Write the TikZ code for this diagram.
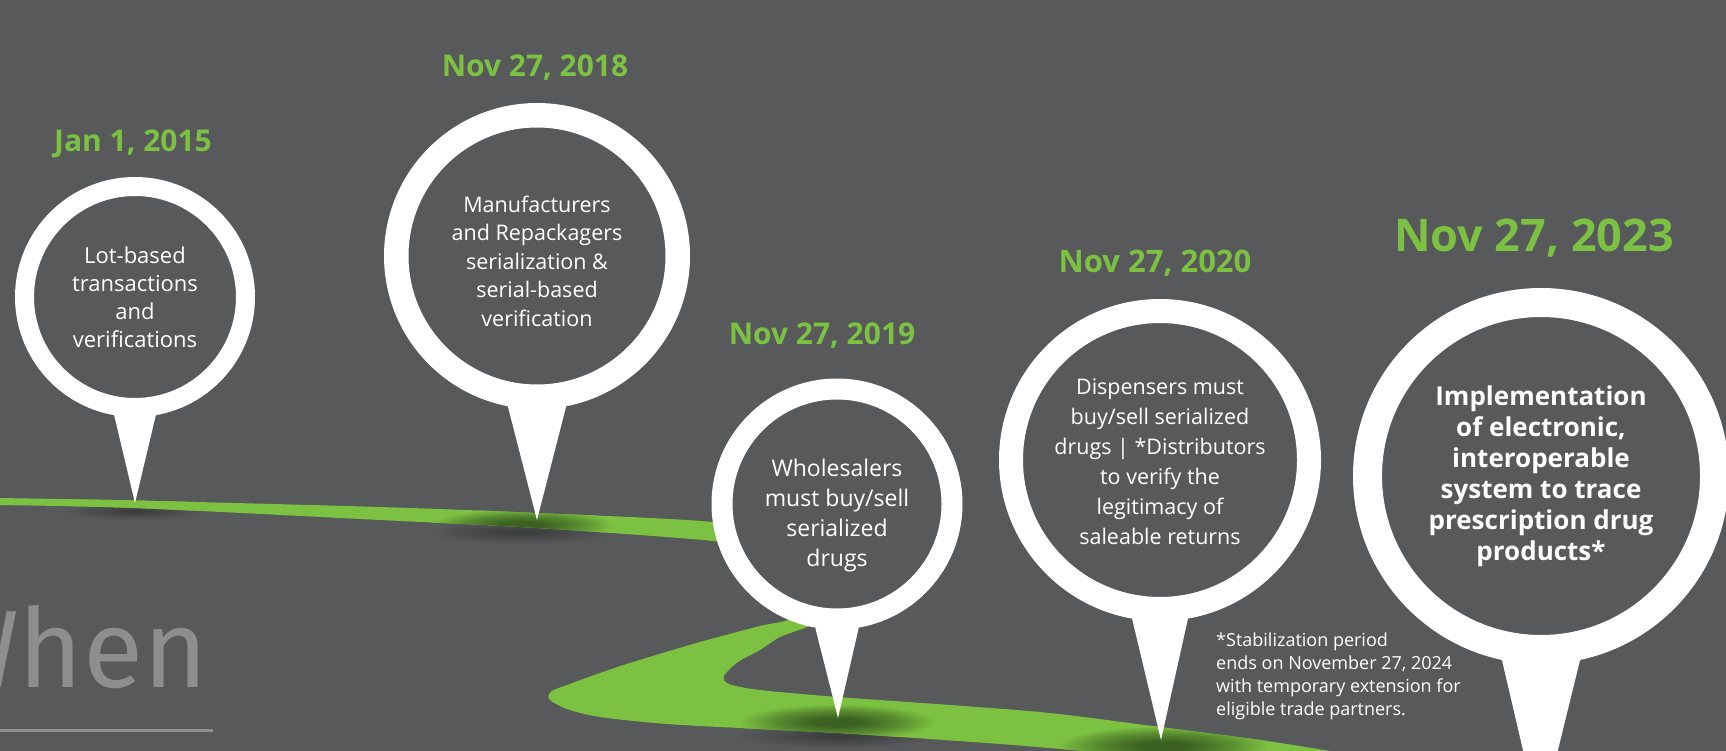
\documentclass[tikz,border=0pt]{standalone}
\usepackage{fontspec}
\setmainfont{Open Sans}
\newfontfamily\whenfont{Fira Sans}
\usetikzlibrary{positioning}

\definecolor{pagebg}{RGB}{88,89,91}
\definecolor{bandgreen}{RGB}{125,193,66}
\definecolor{dategreen}{RGB}{125,193,66}
\definecolor{spotdark}{RGB}{60,98,34}
\definecolor{whengrey}{RGB}{141,142,144}

% dark spot where a pin touches the road
\pgfdeclareradialshading{pinspot}{\pgfpoint{0bp}{0bp}}{%
  color(0bp)=(spotdark); color(6bp)=(spotdark);
  color(16bp)=(spotdark!55!bandgreen);
  color(25bp)=(bandgreen); color(50bp)=(bandgreen)}

\tikzset{
    %Define style for the pin heads
    pinhead/.style={
           circle,
           draw=white,
           fill=pagebg,
           inner sep=0pt},
    % text inside a pin head
    pintext/.style={
           text=white,
           align=center,
           inner sep=0pt},
    % pin needle
    needle/.style={fill=white},
    % green dates above the pins
    datelabel/.style={
           text=dategreen,
           font=\bfseries\fontsize{30}{36}\selectfont,
           inner sep=0pt,
           text depth=0pt},
    notetext/.style={
           text=white,
           align=left,
           inner sep=0pt,
           font=\fontsize{18}{23}\selectfont},
    whenlabel/.style={
           text=whengrey,
           inner sep=0pt,
           font=\whenfont\fontsize{110}{116}\selectfont},
    spot/.style={shading=pinspot},
    % soft shadow of the road on the ground
    groundshadow/.style={inner color=black!35!pagebg, outer color=pagebg}
}

\begin{document}
\begin{tikzpicture}[x=1pt, y=-1pt]
 \useasboundingbox (0,0) rectangle (1726,751);
 \clip (0,0) rectangle (1726,751);
 \fill[pagebg] (0,0) rectangle (1726,751);

 % shadows under the road
 \shade[groundshadow] (134,511) ellipse [x radius=70, y radius=9];
 \shade[groundshadow] (522,532) ellipse [x radius=95, y radius=12];
 \shade[groundshadow] (837,736) ellipse [x radius=100, y radius=12];
 \shade[groundshadow] (1163,752) ellipse [x radius=105, y radius=12];

 % road
 \fill[bandgreen, path picture={
     \shade[spot] (134,505) ellipse [x radius=66, y radius=12];
     \shade[spot] (522,525) ellipse [x radius=92, y radius=16];
     \shade[spot] (837,722) ellipse [x radius=98, y radius=18];
     \shade[spot] (1163,746) ellipse [x radius=106, y radius=20];
   }]
   plot[smooth cycle, tension=0.5] coordinates {
     (-20,497.5) (0,498) (135,500.5) (380,507) (537,513) (713,522)
     (790,538) (840,575) (835,612) (807,627) (780,637) (760,650)
     (738,662) (724,676) (729,684) (760,690) (838,697) (950,705)
     (1050,713) (1160,727) (1260,740) (1330,751) (1400,763)
     (1440,800) (1180,800) (1130,757) (1083,751) (1000,744)
     (900,737) (838,733) (760,729) (667,724) (600,717) (567,709)
     (549,699) (552,691) (567,685) (600,673) (633,662) (700,642)
     (760,626) (790,619) (806,600) (785,572) (740,550) (713,541)
     (537,528) (380,520) (135,508) (0,505) (-20,504.5)};

 % the word
 \node[whenlabel, anchor=base east] (whenword) at (208,687) {When};
 \draw[whengrey, line width=2.7pt] (0,730.3) -- (213,730.3);

 %pins
 \node[pinhead, minimum size=221pt, line width=19pt] (lotpin) at (135,297) {};
 \node[pinhead, minimum size=281.5pt, line width=24.5pt] (repackpin) at (537,256) {};
 \node[pinhead, minimum size=230pt, line width=21pt] (wholesalepin) at (837,504) {};
 \node[pinhead, minimum size=298pt, line width=24pt] (dispenserpin) at (1160,460) {};
 \node[pinhead, minimum size=347pt, line width=29pt] (tracepin) at (1541,476) {};

 % needles down to the road
 \coordinate (lottip) at (135,503);
 \coordinate (repacktip) at (537,520);
 \coordinate (wholesaletip) at (838,718);
 \coordinate (dispensertip) at (1161,740);
 \coordinate (tracetip) at (1540,823);
 \fill[needle] (lotpin.-100) -- (lottip) -- (lotpin.-80) -- cycle;
 \fill[needle] (repackpin.-101) -- (repacktip) -- (repackpin.-79) -- cycle;
 \fill[needle] (wholesalepin.-100) -- (wholesaletip) -- (wholesalepin.-80) -- cycle;
 \fill[needle] (dispenserpin.-100) -- (dispensertip) -- (dispenserpin.-80) -- cycle;
 \fill[needle] (tracepin.-102) -- (tracetip) -- (tracepin.-78) -- cycle;

 % texts in the pins
 \node[pintext, font=\fontsize{22}{28}\selectfont] (lottext) at (lotpin.center)
       {Lot-based\\transactions\\and\\verifications};
 \node[pintext, font=\fontsize{21.5}{28.5}\selectfont] (repacktext)
       at ([yshift=-5pt]repackpin.center)
       {Manufacturers\\and Repackagers\\serialization \&\\serial-based\\verification};
 \node[pintext, font=\fontsize{23}{30}\selectfont] (wholesaletext)
       at ([yshift=-12pt]wholesalepin.center)
       {Wholesalers\\must buy/sell\\serialized\\drugs};
 \node[pintext, font=\fontsize{21.5}{30}\selectfont] (dispensertext)
       at ([yshift=-2pt]dispenserpin.center)
       {Dispensers must\\buy/sell serialized\\drugs | *Distributors\\to verify the\\legitimacy of\\saleable returns};
 \node[pintext, font=\bfseries\fontsize{26}{31}\selectfont] (tracetext) at (tracepin.center)
       {Implementation\\of electronic,\\interoperable\\system to trace\\prescription drug\\products*};

 % dates
 \node[datelabel, above=25pt of lotpin, xshift=-2pt] (jan2015) {Jan 1, 2015};
 \node[datelabel, above=26pt of repackpin, xshift=-2pt] (nov2018) {Nov 27, 2018};
 \node[datelabel, above=34pt of wholesalepin, xshift=-15pt] (nov2019) {Nov 27, 2019};
 \node[datelabel, above=26pt of dispenserpin, xshift=-5pt,
       font=\bfseries\fontsize{31}{36}\selectfont] (nov2020) {Nov 27, 2020};
 \node[datelabel, above=36pt of tracepin, xshift=-7pt,
       font=\bfseries\fontsize{45}{50}\selectfont] (nov2023) {Nov 27, 2023};

 % footnote
 \node[notetext, anchor=north west] (stabnote) at (1216,633)
       {*Stabilization period\\ends on November 27, 2024\\with temporary extension for\\eligible trade partners.};
\end{tikzpicture}
\end{document}
